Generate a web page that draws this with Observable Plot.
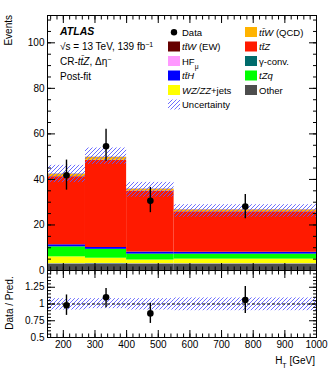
<!DOCTYPE html>
<html><head><meta charset="utf-8">
<script src="https://cdn.jsdelivr.net/npm/d3@7"></script>
<script src="https://cdn.jsdelivr.net/npm/@observablehq/plot@0.6"></script>
<style>
body{margin:0;background:#fff;}
#wrap{position:relative;width:332px;height:375px;overflow:hidden;font-family:"Liberation Sans",Arial,Helvetica,sans-serif;}
#wrap svg{position:absolute;left:0;overflow:visible;}
</style></head><body><div id="wrap"></div>
<script>
// ---- data ----
const binEdges = [150, 270, 400, 550, 1000];
const binCenters = [210, 335, 475, 775];

// stacked predictions per bin (bottom to top)
const other     = [2.7, 2.8, 2.8, 2.8];
const gammaConv = [0.2, 0.2, 0.1, 0.1];
const hfMu      = [0.1, 0.1, 0.1, 0.1];
const wzzzJets  = [3.0, 2.3, 1.6, 2.0];
const tZq       = [4.4, 3.9, 2.6, 2.2];
const ttH       = [0.9, 0.8, 0.9, 0.8];
const ttZ       = [29.9, 38.3, 26.8, 17.8];
const ttWQCD    = [1.0, 1.2, 0.7, 0.7];
const ttWEW     = [0.1, 0.1, 0.1, 0.1];

const uncLo = [38.6, 46.6, 32.2, 23.4];
const uncHi = [46.2, 53.8, 38.7, 28.9];

const dataY  = [41.8, 54.6, 30.6, 28.1];
const dataLo = [35.3, 48.0, 25.4, 22.7];
const dataHi = [48.5, 62.0, 36.5, 33.4];

const ratioY  = [0.98, 1.10, 0.86, 1.06];
const ratioLo = [0.83, 0.945, 0.71, 0.86];
const ratioHi = [1.135, 1.23, 1.01, 1.26];
const ratioBandLo = [0.91, 0.93, 0.91, 0.90];
const ratioBandHi = [1.08, 1.08, 1.08, 1.09];

const yTicksMain = [0, 20, 40, 60, 80, 100];
const yTicksRatio = [0.5, 0.75, 1, 1.25];
const xTicks = [200, 300, 400, 500, 600, 700, 800, 900, 1000];

// ---- styles ----
const procs = [
  {name: "Other", vals: other, color: "#4d4d4d"},
  {name: "gamma", vals: gammaConv, color: "#006b6b"},
  {name: "HF", vals: hfMu, color: "#ff99ff"},
  {name: "WZZZ", vals: wzzzJets, color: "#ffff00"},
  {name: "tZq", vals: tZq, color: "#00ff00"},
  {name: "ttH", vals: ttH, color: "#0000ff"},
  {name: "ttZ", vals: ttZ, color: "#ff1a00"},
  {name: "ttWQCD", vals: ttWQCD, color: "#ffb300"},
  {name: "ttWEW", vals: ttWEW, color: "#660000"}
];

const stackRows = [];
const cum = binCenters.map(() => 0);
for (const p of procs) {
  p.vals.forEach((v, i) => {
    stackRows.push({x1: binEdges[i], x2: binEdges[i + 1], y1: cum[i], y2: cum[i] + v, color: p.color});
    cum[i] += v;
  });
}
const bandRows = binCenters.map((c, i) => ({x1: binEdges[i], x2: binEdges[i + 1], lo: uncLo[i], hi: uncHi[i]}));
const dataRows = binCenters.map((c, i) => ({x: c, y: dataY[i], lo: dataLo[i], hi: dataHi[i]}));
const rBandRows = binCenters.map((c, i) => ({x1: binEdges[i], x2: binEdges[i + 1], lo: ratioBandLo[i], hi: ratioBandHi[i]}));
const rDataRows = binCenters.map((c, i) => ({x: c, y: ratioY[i], lo: ratioLo[i], hi: ratioHi[i]}));

const FONT = '"Liberation Sans", Arial, Helvetica, sans-serif';
const minorX = d3.range(160, 1001, 20);
const minorYMain = d3.range(0, 112, 5);
const minorYRatio = d3.range(0.5, 1.5001, 0.05);
const HATCH_COLOR = "#5c5cff";

function addHatch(svg, id) {
  const defs = d3.select(svg).insert("defs", ":first-child");
  const pat = defs.append("pattern").attr("id", id).attr("patternUnits", "userSpaceOnUse")
    .attr("width", 4).attr("height", 4);
  pat.append("path").attr("d", "M-1,1L1,-1M0,4L4,0M3,5L5,3")
    .attr("stroke", HATCH_COLOR).attr("stroke-width", 0.9).attr("fill", "none");
}

const wrap = document.getElementById("wrap");

const main = Plot.plot({
  width: 332, height: 271,
  marginLeft: 47, marginRight: 16, marginTop: 15, marginBottom: 1,
  style: {fontFamily: FONT, fontSize: "10px", color: "black", background: "transparent", overflow: "visible"},
  x: {domain: [150, 1000], label: null},
  y: {domain: [0, 112], label: null},
  color: {type: "identity"},
  marks: [
    Plot.rect(stackRows, {x1: "x1", x2: "x2", y1: "y1", y2: "y2", fill: "color"}),
    Plot.rect(bandRows, {x1: "x1", x2: "x2", y1: "lo", y2: "hi", fill: "url(#hatchMain)"}),
    Plot.ruleX(dataRows, {x: "x", y1: "lo", y2: "hi", stroke: "black", strokeWidth: 1.4}),
    Plot.dot(dataRows, {x: "x", y: "y", r: 3.3, fill: "black"}),
    Plot.axisY(yTicksMain, {anchor: "left", tickSize: 0, tickPadding: 3, label: null, fontSize: 10}),
    Plot.axisY(yTicksMain, {anchor: "left", tickSize: -8, fill: "none", label: null}),
    Plot.axisY(minorYMain, {anchor: "left", tickSize: -4, fill: "none", label: null}),
    Plot.axisY(yTicksMain, {anchor: "right", tickSize: -8, fill: "none", label: null}),
    Plot.axisY(minorYMain, {anchor: "right", tickSize: -4, fill: "none", label: null}),
    Plot.axisX(xTicks, {anchor: "bottom", tickSize: -7, fill: "none", label: null}),
    Plot.axisX(minorX, {anchor: "bottom", tickSize: -3.5, fill: "none", label: null}),
    Plot.axisX(xTicks, {anchor: "top", tickSize: -7, fill: "none", label: null}),
    Plot.axisX(minorX, {anchor: "top", tickSize: -3.5, fill: "none", label: null}),
    Plot.frame({stroke: "black"})
  ]
});
main.style.top = "0px";
wrap.appendChild(main);
addHatch(main, "hatchMain");

const ratio = Plot.plot({
  width: 332, height: 106,
  marginLeft: 47, marginRight: 16, marginTop: 1, marginBottom: 38,
  style: {fontFamily: FONT, fontSize: "10px", color: "black", background: "transparent", overflow: "visible"},
  x: {domain: [150, 1000], label: null},
  y: {domain: [0.5, 1.5], label: null},
  marks: [
    Plot.rect(rBandRows, {x1: "x1", x2: "x2", y1: "lo", y2: "hi", fill: "url(#hatchRatio)"}),
    Plot.ruleY([1], {stroke: "black", strokeDasharray: "3,2", strokeWidth: 1}),
    Plot.ruleX(rDataRows, {x: "x", y1: "lo", y2: "hi", stroke: "black", strokeWidth: 1.4}),
    Plot.dot(rDataRows, {x: "x", y: "y", r: 3.3, fill: "black"}),
    Plot.axisY(yTicksRatio, {anchor: "left", tickSize: 0, tickPadding: 3, label: null, tickFormat: d => String(d)}),
    Plot.axisY(yTicksRatio, {anchor: "left", tickSize: -8, fill: "none", label: null}),
    Plot.axisY(minorYRatio, {anchor: "left", tickSize: -4, fill: "none", label: null}),
    Plot.axisY(yTicksRatio, {anchor: "right", tickSize: -8, fill: "none", label: null}),
    Plot.axisY(minorYRatio, {anchor: "right", tickSize: -4, fill: "none", label: null}),
    Plot.axisX(xTicks, {anchor: "bottom", tickSize: 0, tickPadding: 3, label: null, tickFormat: d => String(d)}),
    Plot.axisX(xTicks, {anchor: "bottom", tickSize: -7, fill: "none", label: null}),
    Plot.axisX(minorX, {anchor: "bottom", tickSize: -3.5, fill: "none", label: null}),
    Plot.axisX(xTicks, {anchor: "top", tickSize: -7, fill: "none", label: null}),
    Plot.axisX(minorX, {anchor: "top", tickSize: -3.5, fill: "none", label: null}),
    Plot.frame({stroke: "black"})
  ]
});
ratio.style.top = "269px";
wrap.appendChild(ratio);
addHatch(ratio, "hatchRatio");

// ---- text helpers ----
function rich(sel, x, y, parts, opts = {}) {
  const t = sel.append("text").attr("x", x).attr("y", y)
    .attr("font-family", FONT).attr("font-size", opts.size || 10).attr("fill", "black")
    .attr("text-anchor", opts.anchor || "start");
  if (opts.transform) t.attr("transform", opts.transform);
  for (const p of parts) {
    const [txt, st = ""] = Array.isArray(p) ? p : [p];
    const s = t.append("tspan").text(txt);
    if (st.includes("i")) s.attr("font-style", "italic");
    if (st.includes("b")) s.attr("font-weight", "bold");
    if (st.includes("^")) s.attr("baseline-shift", "super").attr("font-size", "0.7em");
    if (st.includes("_")) s.attr("baseline-shift", "sub").attr("font-size", "0.7em");
  }
  return t;
}

const g = d3.select(main).append("g");
rich(g, 60, 35, [["ATLAS", "bi"]], {size: 10.5});
rich(g, 60, 49.5, ["\u221As = 13 TeV, 139 fb", ["\u22121", "^"]]);
rich(g, 60, 64.5, ["CR-", ["tt\u0304Z", "i"], ", \u0394\u03b7", ["\u2212", "^"]]);
rich(g, 60, 79.5, ["Post-fit"]);
rich(g, 12, 15, ["Events"], {anchor: "end", transform: "rotate(-90 12 15)"});

// legend
const L = g.append("g");
const rowsY = [35.5, 50, 64.5, 79, 93.5, 108];
L.append("circle").attr("cx", 174).attr("cy", rowsY[0] - 3.3).attr("r", 3.2).attr("fill", "black");
rich(L, 182, rowsY[0], ["Data"], {size: 9.5});
const leg1 = [
  {c: "#660000", t: [["tt\u0304W", "i"], " (EW)"]},
  {c: "#ff99ff", t: ["HF", ["\u03bc", "_"]]},
  {c: "#0000ff", t: [["tt\u0304H", "i"]]},
  {c: "#ffff00", t: [["WZ/ZZ", "i"], "+jets"]},
  {c: "url(#hatchMain)", t: ["Uncertainty"]}
];
leg1.forEach((d, i) => {
  const y = rowsY[i + 1];
  L.append("rect").attr("x", 168).attr("y", y - 8.5).attr("width", 12).attr("height", 10).attr("fill", d.c);
  rich(L, 182, y, d.t, {size: 9.5});
});
const leg2 = [
  {c: "#ffb300", t: [["tt\u0304W", "i"], " (QCD)"]},
  {c: "#ff1a00", t: [["tt\u0304Z", "i"]]},
  {c: "#006b6b", t: ["\u03b3-conv."]},
  {c: "#00ff00", t: [["tZq", "i"]]},
  {c: "#4d4d4d", t: ["Other"]}
];
leg2.forEach((d, i) => {
  const y = rowsY[i];
  L.append("rect").attr("x", 245).attr("y", y - 8.5).attr("width", 12).attr("height", 10).attr("fill", d.c);
  rich(L, 259, y, d.t, {size: 9.5});
});

const g2 = d3.select(ratio).append("g");
rich(g2, 13, 34, ["Data / Pred."], {anchor: "middle", transform: "rotate(-90 13 34)"});
rich(g2, 315, 95, ["H", ["T", "_"], " [GeV]"], {anchor: "end"});
</script></body></html>
